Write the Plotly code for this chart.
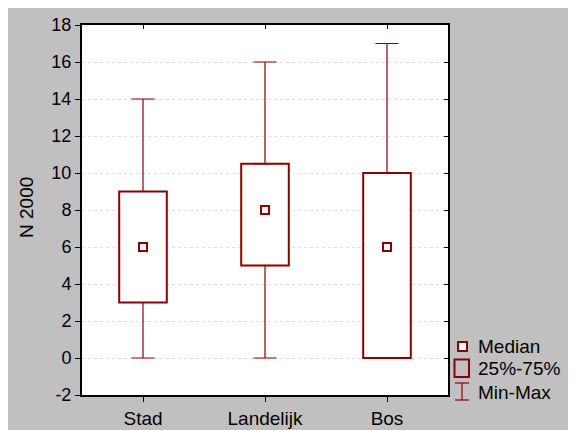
import plotly.graph_objects as go

# ---- data ----
categories = ["Stad", "Landelijk", "Bos"]
minimum = [0, 0, 0]
q1 = [3, 5, 0]
median = [6, 8, 6]
q3 = [9, 10.5, 10]
maximum = [14, 16, 17]
y_range = [-2, 18]
y_tickvals = [-2, 0, 2, 4, 6, 8, 10, 12, 14, 16, 18]
y_ticktext = ["-2", "0", "2", "4", "6", "8", "10", "12", "14", "16", "18"]
y_title = "N 2000"
legend_labels = ["Median", "25%-75%", "Min-Max"]

RED = "#8B0000"
GRAY = "#C0C0C0"
FONT = "Liberation Sans, Arial, sans-serif"

# page is offset by the 8px body margin
OFF = 8
W, H = 576, 430
L, T = 82 - OFF, 25 - OFF
PW, PH = 366, 370
R = W - L - PW
B = H - T - PH


def px(x):  # page pixel -> paper x
    return (x - OFF - L) / PW


def py(y):  # page pixel -> paper y
    return (T + PH - (y - OFF)) / PH


fig = go.Figure()

# 25%-75% boxes
fig.add_trace(go.Bar(
    x=categories, base=q1, y=[b - a for a, b in zip(q1, q3)],
    width=0.39,
    marker=dict(color="white", line=dict(color=RED, width=2)),
    showlegend=False, hoverinfo="skip",
))

# upper whiskers (q3 -> max)
fig.add_trace(go.Scatter(
    x=categories, y=q3, mode="markers",
    marker=dict(size=1, color="rgba(0,0,0,0)"),
    error_y=dict(type="data", symmetric=False,
                 array=[m - b for m, b in zip(maximum, q3)],
                 arrayminus=[0] * len(categories),
                 color=RED, thickness=1.2, width=11.5),
    showlegend=False, hoverinfo="skip",
))

# lower whiskers (min -> q1)
fig.add_trace(go.Scatter(
    x=categories, y=q1, mode="markers",
    marker=dict(size=1, color="rgba(0,0,0,0)"),
    error_y=dict(type="data", symmetric=False,
                 array=[0] * len(categories),
                 arrayminus=[a - m for a, m in zip(q1, minimum)],
                 color=RED, thickness=1.2, width=11.5),
    showlegend=False, hoverinfo="skip",
))

# medians
fig.add_trace(go.Scatter(
    x=categories, y=median, mode="markers",
    marker=dict(symbol="square", size=8, color="white",
                line=dict(color=RED, width=2)),
    showlegend=False, hoverinfo="skip",
))

# invisible trace to create mirrored top/right axes
fig.add_trace(go.Scatter(
    x=categories, y=median, mode="markers", xaxis="x2", yaxis="y2",
    marker=dict(size=1, color="rgba(0,0,0,0)"),
    showlegend=False, hoverinfo="skip",
))

tickfont = dict(family=FONT, size=18, color="black")

fig.update_layout(
    width=W, height=H,
    margin=dict(l=L, r=R, t=T, b=B),
    paper_bgcolor=GRAY, plot_bgcolor="white",
    font=dict(family=FONT, size=18, color="black"),
    showlegend=False,
    xaxis=dict(type="category", categoryarray=categories,
               range=[-0.5, len(categories) - 0.5], automargin=False,
               showline=True, linecolor="black", linewidth=2,
               ticks="outside", ticklen=5, tickcolor="black", tickwidth=1,
               showgrid=False, zeroline=False,
               tickfont=dict(family=FONT, size=19, color="black")),
    yaxis=dict(range=y_range, tickmode="array", tickvals=y_tickvals,
               ticktext=y_ticktext, automargin=False,
               showline=True, linecolor="black", linewidth=2,
               ticks="outside", ticklen=5, tickcolor="black", tickwidth=1,
               showgrid=True, gridcolor="#dedede", griddash="dot", gridwidth=1,
               zeroline=False, tickfont=tickfont),
    xaxis2=dict(type="category", categoryarray=categories,
                range=[-0.5, len(categories) - 0.5], automargin=False,
                overlaying="x", side="top", anchor="y2",
                showline=True, linecolor="black", linewidth=1.5,
                ticks="inside", ticklen=4, tickcolor="black", tickwidth=1,
                showticklabels=False, showgrid=False, zeroline=False),
    yaxis2=dict(range=y_range, tickmode="array", tickvals=y_tickvals,
                automargin=False,
                overlaying="y", side="right", anchor="x2",
                showline=True, linecolor="black", linewidth=1.5,
                ticks="inside", ticklen=4, tickcolor="black", tickwidth=1,
                showticklabels=False, showgrid=False, zeroline=False),
)

shapes = []
annotations = []

# legend symbols
shapes.append(dict(type="rect", xref="paper", yref="paper",
                   x0=px(458), x1=px(467), y0=py(351), y1=py(342),
                   fillcolor="white", line=dict(color=RED, width=2)))
shapes.append(dict(type="rect", xref="paper", yref="paper",
                   x0=px(454.5), x1=px(469), y0=py(377), y1=py(359.5),
                   fillcolor=GRAY, line=dict(color=RED, width=2)))
shapes.append(dict(type="line", xref="paper", yref="paper",
                   x0=px(462), x1=px(462), y0=py(383), y1=py(400),
                   line=dict(color=RED, width=1.2)))
shapes.append(dict(type="line", xref="paper", yref="paper",
                   x0=px(455), x1=px(469), y0=py(383), y1=py(383),
                   line=dict(color=RED, width=1.2)))
shapes.append(dict(type="line", xref="paper", yref="paper",
                   x0=px(455), x1=px(469), y0=py(400), y1=py(400),
                   line=dict(color=RED, width=1.2)))

for label, yy in zip(legend_labels, [346, 368, 392]):
    annotations.append(dict(text=label, xref="paper", yref="paper",
                            x=px(476), y=py(yy), xanchor="left", yanchor="middle",
                            showarrow=False,
                            font=dict(family=FONT, size=19, color="black")))

# y-axis title
annotations.append(dict(text=y_title, xref="paper", yref="paper",
                        x=px(26), y=py(208), xanchor="center", yanchor="middle",
                        textangle=-90, showarrow=False,
                        font=dict(family=FONT, size=19, color="black")))

fig.update_layout(shapes=shapes, annotations=annotations)

fig.write_html("out.html")
